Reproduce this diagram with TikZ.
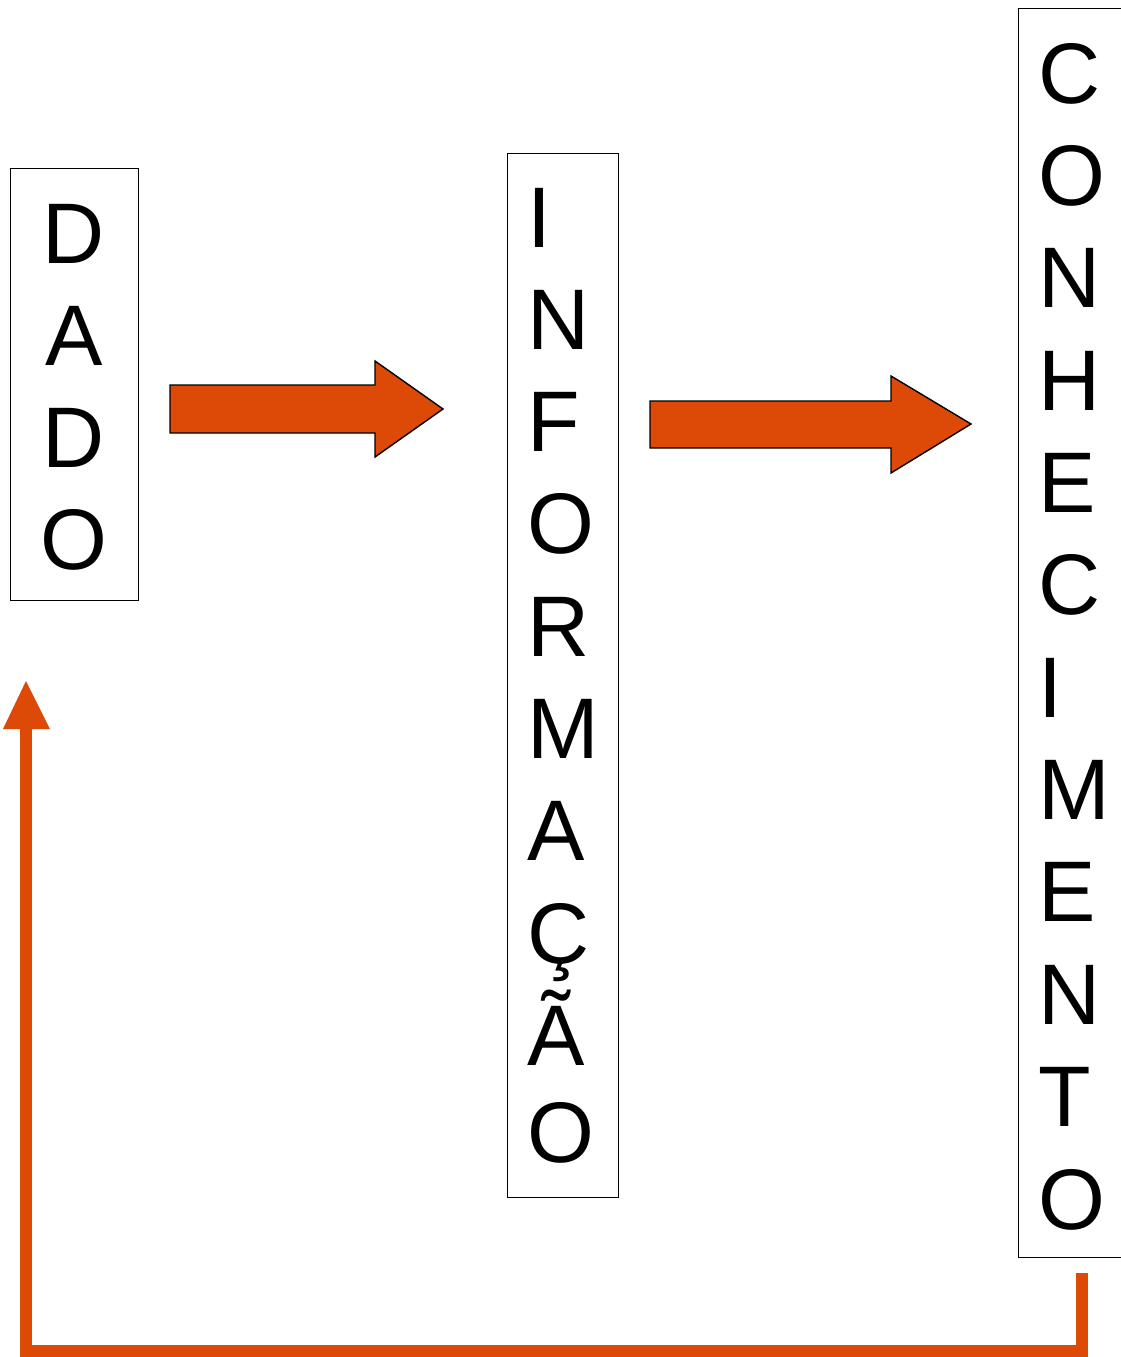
\documentclass[tikz,border=0pt]{standalone}
\usepackage{fontspec}
\setmainfont{Liberation Sans}
\definecolor{orng}{RGB}{221,74,8}
\begin{document}
\begin{tikzpicture}[x=1pt,y=-1pt,
  box/.style={draw=black,line width=1.4pt,inner sep=0pt,anchor=north west},
  letter/.style={inner sep=0pt,font=\fontsize{86}{100}\selectfont},
  blockarrow/.style={fill=orng,draw=black,line width=1.4pt,line join=miter},
  feedback/.style={draw=orng,line width=12pt,line cap=butt,line join=miter}]
\useasboundingbox (0,0) rectangle (1121,1357);
\fill[white] (0,0) rectangle (1121,1357);
% boxes
\node[box,minimum width=128pt,minimum height=432pt] (dado) at (10,168) {};
\node[box,minimum width=111pt,minimum height=1044pt] (info) at (507,153) {};
\node[box,minimum width=110pt,minimum height=1249pt] (conh) at (1018,8) {};
% DADO letters
\foreach \l/\y [count=\i] in {D/263,A/365,D/467,O/569}
  \node[letter,anchor=base] (d\i) at (74,\y) {\l};
% INFORMAÇÃO letters
\foreach \l/\y [count=\i] in {I/247,N/349,F/451,O/553,R/656,M/758,A/860,Ç/963,Ã/1065,O/1162}
  \node[letter,anchor=base west] (i\i) at (527,\y) {\l};
% CONHECIMENTO letters
\foreach \l/\y [count=\i] in {C/103,O/205,N/307,H/410,E/512,C/614,I/717,M/819,E/921,N/1024,T/1126,O/1229}
  \node[letter,anchor=base west] (c\i) at (1038,\y) {\l};
% block arrows
\path[blockarrow] (170,385) -- (375,385) -- (375,361) -- (443,409) -- (375,457) -- (375,433) -- (170,433) -- cycle;
\path[blockarrow] (650,401) -- (891,401) -- (891,376) -- (971,424) -- (891,473) -- (891,448) -- (650,448) -- cycle;
% feedback connector
\coordinate (fbstart) at (1082,1273);
\coordinate (fbend) at (26,729);
\draw[feedback] (fbstart) -- (1082,1351) -- (26,1351) -- (fbend);
\fill[orng] (3,729) -- (26,681) -- (50,729) -- cycle;
\end{tikzpicture}
\end{document}
